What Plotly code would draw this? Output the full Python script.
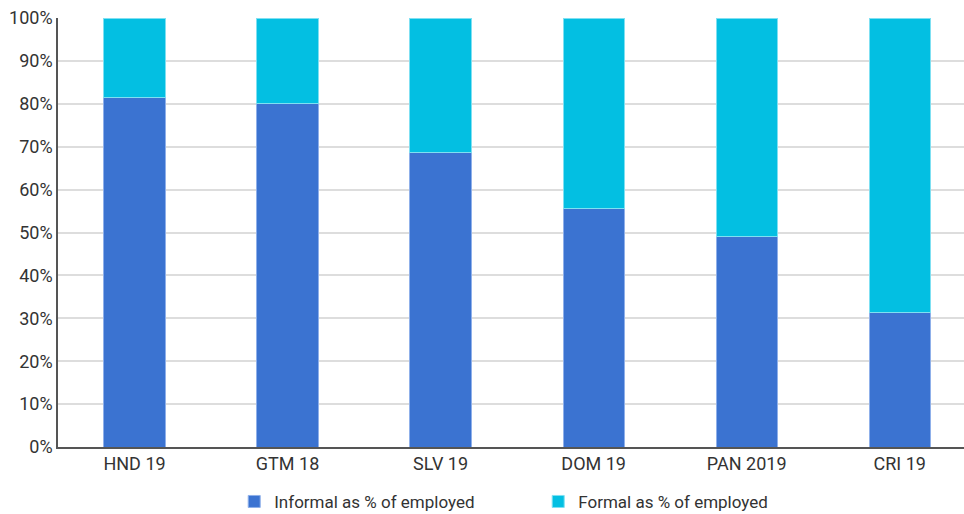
import plotly.graph_objects as go

categories = ["HND 19", "GTM 18", "SLV 19", "DOM 19", "PAN 2019", "CRI 19"]
informal = [81.5, 80.0, 68.7, 55.5, 49.0, 31.4]
formal = [round(100 - v, 1) for v in informal]
y_ticks = [0, 10, 20, 30, 40, 50, 60, 70, 80, 90, 100]
y_ticklabels = [f"{t}%" for t in y_ticks]

FONT = "Roboto, sans-serif"

fig = go.Figure()
fig.add_trace(go.Bar(
    x=categories, y=informal, name="Informal as % of employed",
    marker=dict(color="#3B73D1", line=dict(color="#8fb0ea", width=1)),
    width=0.4,
))
fig.add_trace(go.Bar(
    x=categories, y=formal, name="Formal as % of employed",
    marker=dict(color="#03BFE2", line=dict(color="#7fe0f2", width=1)),
    width=0.4,
))

fig.update_layout(
    barmode="stack",
    width=964, height=514,
    margin=dict(l=58, r=0, t=18, b=67, autoexpand=False),
    plot_bgcolor="white", paper_bgcolor="white",
    font=dict(family=FONT, size=18, color="#333333"),
    showlegend=True,
    legend=dict(orientation="h", x=0.1945, xanchor="left", y=-0.128, yanchor="middle",
                font=dict(size=17, color="#333333"), entrywidth=259, entrywidthmode="pixels",
                traceorder="normal"),
    xaxis=dict(
        range=[-0.5, 5.42], showgrid=False, automargin=False,
        showline=True, linecolor="#555555", linewidth=1.5,
        ticks="", tickfont=dict(size=18),
    ),
    yaxis=dict(
        range=[0, 100], tickvals=y_ticks, ticktext=y_ticklabels, automargin=False,
        showgrid=True, gridcolor="#dddddd", gridwidth=1.5,
        showline=True, linecolor="#555555", linewidth=1.5,
        ticks="", zeroline=False, tickfont=dict(size=18),
    ),
)

fig.write_html("out.html", config={"displayModeBar": False},
               post_script="document.body.style.margin='0px';")
